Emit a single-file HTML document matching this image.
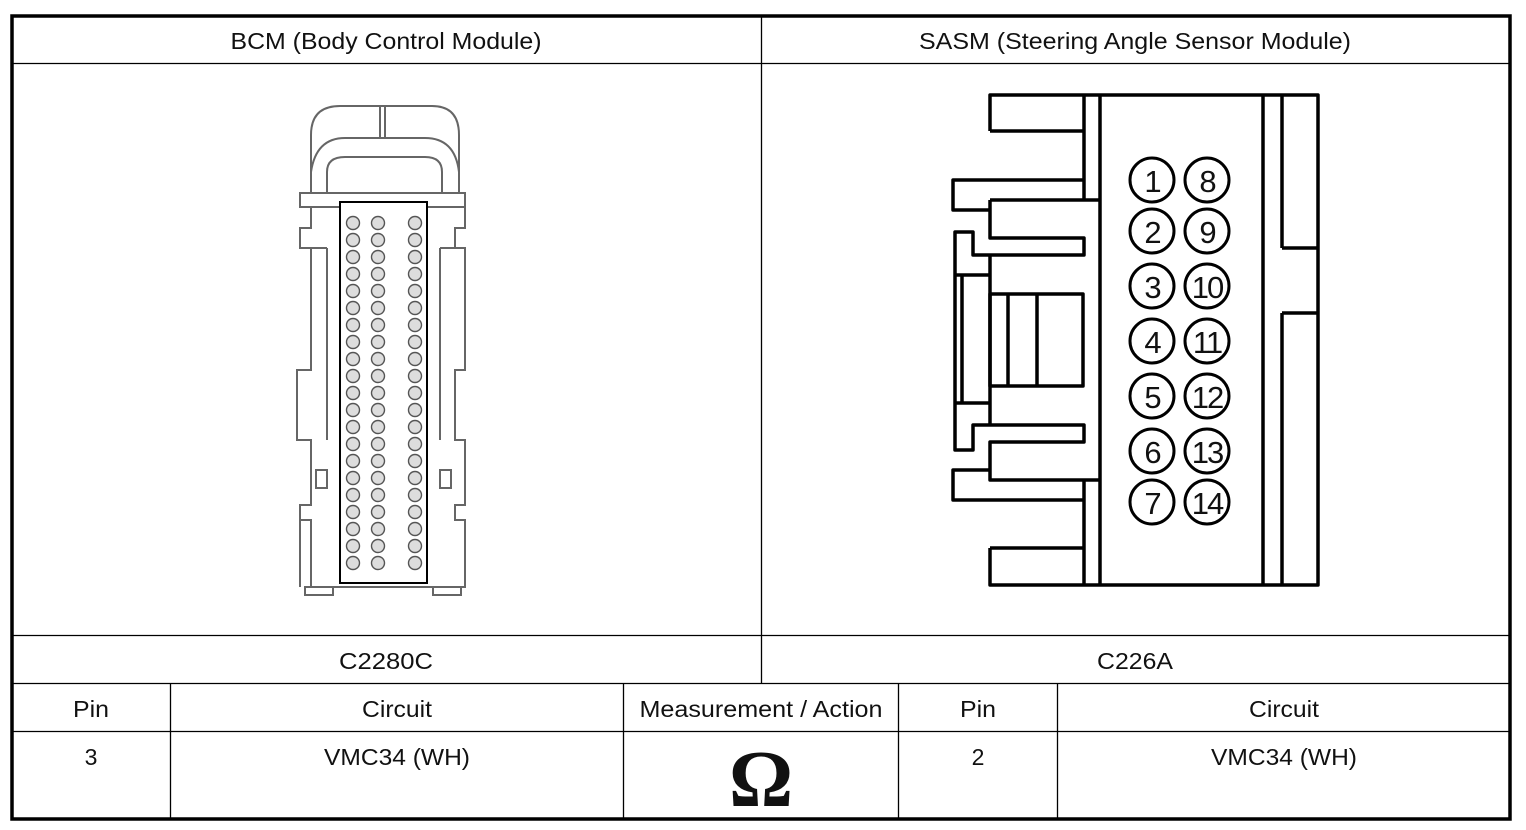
<!DOCTYPE html>
<html><head><meta charset="utf-8"><style>
html,body{margin:0;padding:0;background:#fff}
svg{display:block}
text{font-family:"Liberation Sans",sans-serif;fill:#111}
</style></head><body>
<svg width="1526" height="830" viewBox="0 0 1526 830" xmlns="http://www.w3.org/2000/svg">
<g stroke="#000" fill="none">
<rect x="12" y="16" width="1498" height="803" stroke-width="3.5"/>
<line x1="12" y1="63.5" x2="1510" y2="63.5" stroke-width="1.3"/>
<line x1="12" y1="635.5" x2="1510" y2="635.5" stroke-width="1.3"/>
<line x1="12" y1="683.5" x2="1510" y2="683.5" stroke-width="1.3"/>
<line x1="12" y1="731.5" x2="1510" y2="731.5" stroke-width="1.3"/>
<line x1="761.5" y1="16" x2="761.5" y2="683" stroke-width="1.3"/>
<line x1="170.5" y1="683" x2="170.5" y2="819" stroke-width="1.3"/>
<line x1="623.5" y1="683" x2="623.5" y2="819" stroke-width="1.3"/>
<line x1="898.5" y1="683" x2="898.5" y2="819" stroke-width="1.3"/>
<line x1="1057.5" y1="683" x2="1057.5" y2="819" stroke-width="1.3"/>
</g>
<g font-size="23" text-anchor="middle" lengthAdjust="spacingAndGlyphs">
<text x="386" y="49" textLength="311" lengthAdjust="spacingAndGlyphs">BCM (Body Control Module)</text>
<text x="1135" y="49" textLength="432" lengthAdjust="spacingAndGlyphs">SASM (Steering Angle Sensor Module)</text>
<text x="386" y="669" textLength="94" lengthAdjust="spacingAndGlyphs">C2280C</text>
<text x="1135" y="669" textLength="76" lengthAdjust="spacingAndGlyphs">C226A</text>
<text x="91" y="717" textLength="36" lengthAdjust="spacingAndGlyphs">Pin</text>
<text x="397" y="717" textLength="70" lengthAdjust="spacingAndGlyphs">Circuit</text>
<text x="761" y="717" textLength="243" lengthAdjust="spacingAndGlyphs">Measurement / Action</text>
<text x="978" y="717" textLength="36" lengthAdjust="spacingAndGlyphs">Pin</text>
<text x="1284" y="717" textLength="70" lengthAdjust="spacingAndGlyphs">Circuit</text>
<text x="91" y="765">3</text>
<text x="397" y="765" textLength="146" lengthAdjust="spacingAndGlyphs">VMC34 (WH)</text>
<text x="978" y="765">2</text>
<text x="1284" y="765" textLength="146" lengthAdjust="spacingAndGlyphs">VMC34 (WH)</text>
</g>
<text x="761" y="806" font-size="80" font-weight="bold" text-anchor="middle" style="font-family:'Liberation Serif',serif">Ω</text>

<!-- BCM connector -->
<g stroke="#666" stroke-width="2" fill="none">
<path d="M311 193 V135 Q311 106 340 106 H432 Q459 106 459 135 V193"/>
<path d="M311 172 Q316 138 345 138 H425 Q455 138 459 172"/>
<path d="M327 193 V172 Q327 157 345 157 H425 Q442 157 442 172 V193"/>
<line x1="380" y1="106" x2="380" y2="138"/><line x1="385" y1="106" x2="385" y2="138"/>
<rect x="300" y="193" width="165" height="14"/>
<path d="M311 207 V228 H300 V248 H311 V370 H297 V440 H311 V505 H300 V520 H311 V587 H465 V520 H455 V505 H465 V440 H455 V370 H465 V248 H455 V228 H465 V207"/>
<line x1="311" y1="248" x2="327" y2="248"/><line x1="327" y1="248" x2="327" y2="440"/>
<line x1="455" y1="248" x2="440" y2="248"/><line x1="440" y1="248" x2="440" y2="440"/>
<rect x="316" y="470" width="11" height="18"/><rect x="440" y="470" width="11" height="18"/>
<line x1="300" y1="520" x2="300" y2="587"/><line x1="465" y1="520" x2="465" y2="587"/>
<rect x="305" y="587" width="28" height="8"/><rect x="433" y="587" width="28" height="8"/>
</g>
<rect x="340" y="202" width="87" height="381" fill="#fff" stroke="#000" stroke-width="2"/>
<g stroke="#555" stroke-width="1.4" fill="#ddd">
<g id="col">
<circle cx="353" cy="223" r="6.5"/><circle cx="353" cy="240" r="6.5"/><circle cx="353" cy="257" r="6.5"/><circle cx="353" cy="274" r="6.5"/><circle cx="353" cy="291" r="6.5"/><circle cx="353" cy="308" r="6.5"/><circle cx="353" cy="325" r="6.5"/><circle cx="353" cy="342" r="6.5"/><circle cx="353" cy="359" r="6.5"/><circle cx="353" cy="376" r="6.5"/><circle cx="353" cy="393" r="6.5"/><circle cx="353" cy="410" r="6.5"/><circle cx="353" cy="427" r="6.5"/><circle cx="353" cy="444" r="6.5"/><circle cx="353" cy="461" r="6.5"/><circle cx="353" cy="478" r="6.5"/><circle cx="353" cy="495" r="6.5"/><circle cx="353" cy="512" r="6.5"/><circle cx="353" cy="529" r="6.5"/><circle cx="353" cy="546" r="6.5"/><circle cx="353" cy="563" r="6.5"/>
</g>
<use href="#col" x="25"/>
<use href="#col" x="62"/>
</g>

<!-- SASM connector -->
<g stroke="#000" stroke-width="3.5" fill="none" stroke-linejoin="round">
<path d="M990 131 V95 H1318 V585 H990 V548"/>
<line x1="1084" y1="95" x2="1084" y2="200"/>
<line x1="1084" y1="480" x2="1084" y2="585"/>
<line x1="1100" y1="95" x2="1100" y2="585"/>
<line x1="1263" y1="95" x2="1263" y2="585"/>
<line x1="1282" y1="95" x2="1282" y2="248"/>
<line x1="1282" y1="248" x2="1318" y2="248"/>
<line x1="1282" y1="313" x2="1318" y2="313"/>
<line x1="1282" y1="313" x2="1282" y2="585"/>
<line x1="990" y1="131" x2="1084" y2="131"/>
<line x1="990" y1="548" x2="1084" y2="548"/>
<path d="M1084 180 H953 V210 H990"/>
<path d="M990 200 H1100"/>
<path d="M990 200 V238 H1084 V255 H973 V232 H955 V450 H973 V425 H1084 V442 H990 V480 H1100"/>
<line x1="990" y1="255" x2="990" y2="425"/>
<line x1="955" y1="275" x2="990" y2="275"/>
<line x1="955" y1="403" x2="990" y2="403"/>
<line x1="962" y1="275" x2="962" y2="403"/>
<rect x="990" y="294" width="93" height="92"/>
<line x1="1008" y1="294" x2="1008" y2="386"/>
<line x1="1037" y1="294" x2="1037" y2="386"/>
<path d="M990 470 H953 V500 H1084"/>
</g>
<g stroke="#000" stroke-width="3" fill="#fff">
<circle cx="1152" cy="180" r="22"/><circle cx="1207" cy="180" r="22"/>
<circle cx="1152" cy="231" r="22"/><circle cx="1207" cy="231" r="22"/>
<circle cx="1152" cy="286" r="22"/><circle cx="1207" cy="286" r="22"/>
<circle cx="1152" cy="341" r="22"/><circle cx="1207" cy="341" r="22"/>
<circle cx="1152" cy="396" r="22"/><circle cx="1207" cy="396" r="22"/>
<circle cx="1152" cy="451" r="22"/><circle cx="1207" cy="451" r="22"/>
<circle cx="1152" cy="502" r="22"/><circle cx="1207" cy="502" r="22"/>
</g>
<g font-size="31" text-anchor="middle" letter-spacing="-2" fill="#333">
<text x="1152" y="192">1</text><text x="1207" y="192">8</text>
<text x="1152" y="243">2</text><text x="1207" y="243">9</text>
<text x="1152" y="298">3</text><text x="1207" y="298">10</text>
<text x="1152" y="353">4</text><text x="1207" y="353">11</text>
<text x="1152" y="408">5</text><text x="1207" y="408">12</text>
<text x="1152" y="463">6</text><text x="1207" y="463">13</text>
<text x="1152" y="514">7</text><text x="1207" y="514">14</text>
</g>
</svg>
</body></html>
